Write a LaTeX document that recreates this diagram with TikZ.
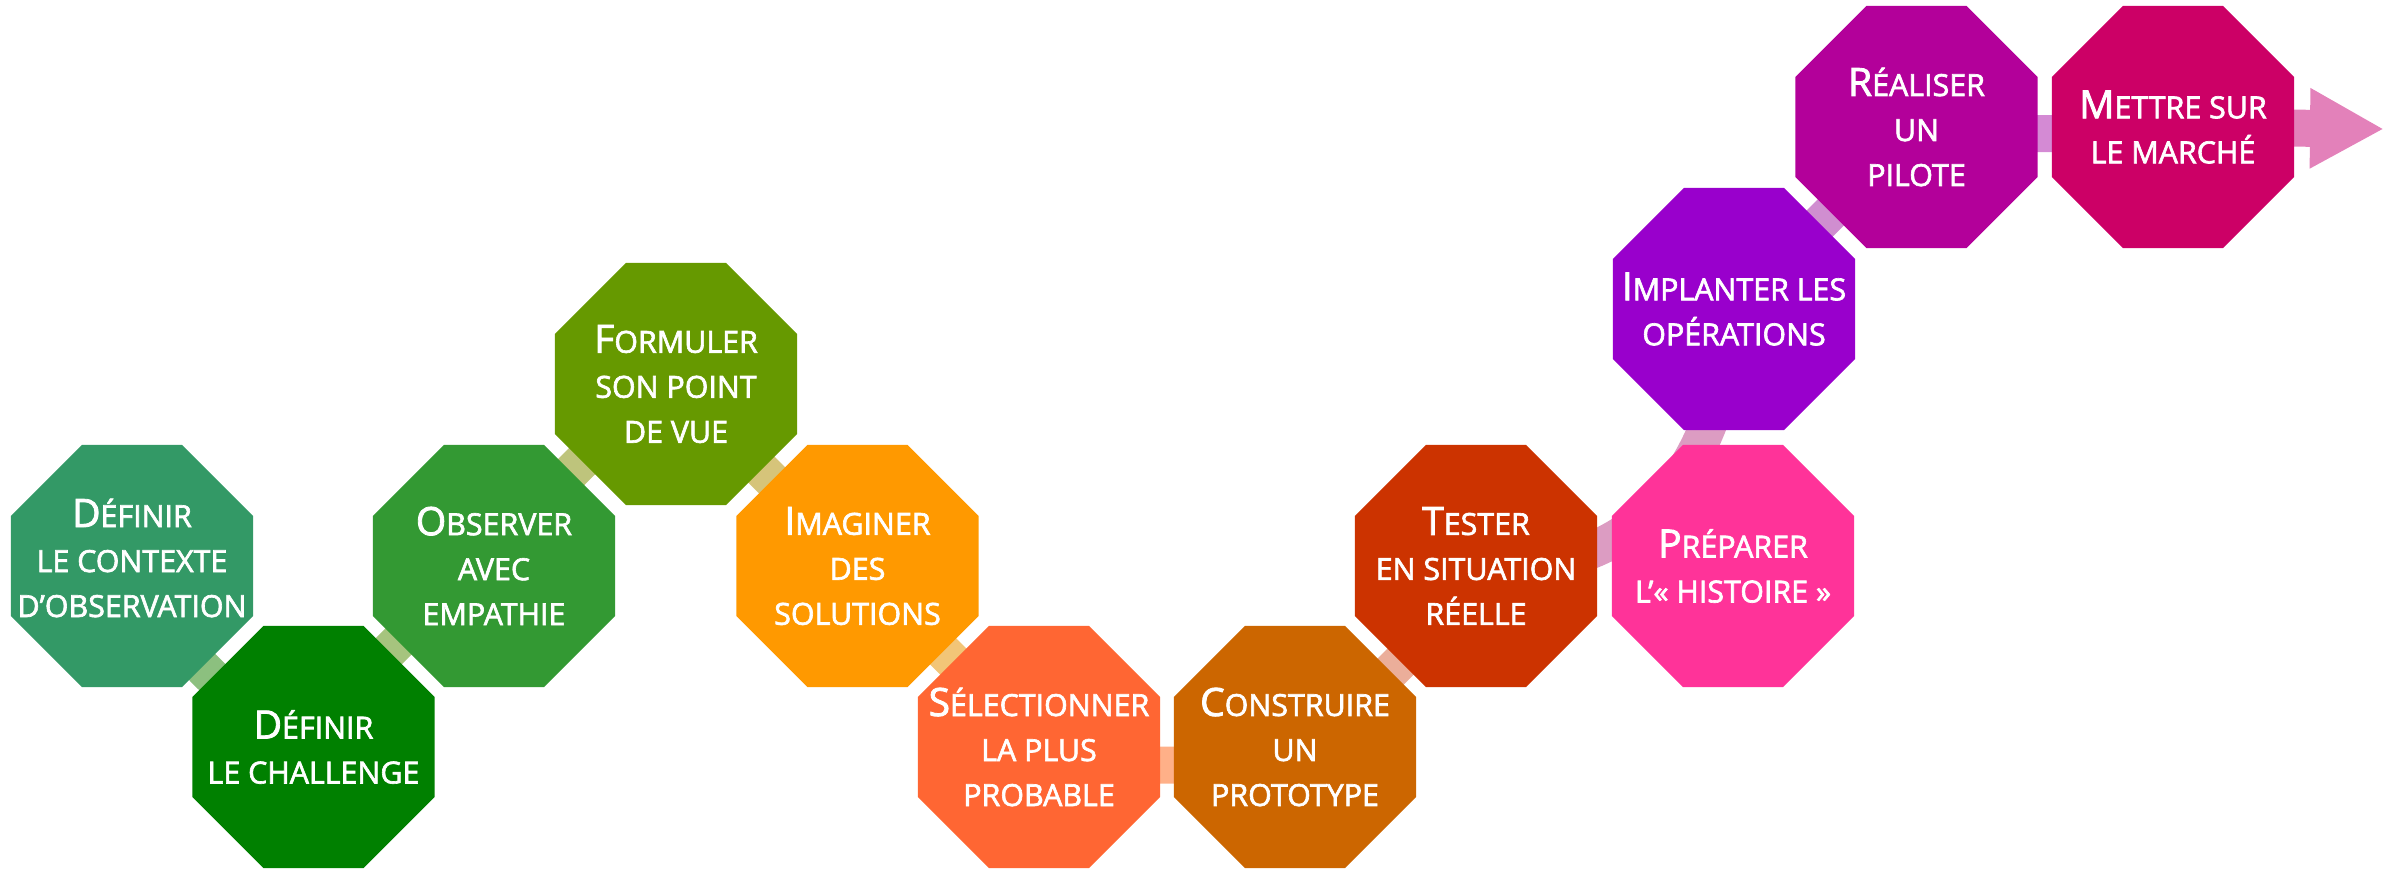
\documentclass[tikz,border=0pt]{standalone}
\usepackage{fontspec}
\newfontfamily\stepfont{Open Sans}[FakeBold=2.1]
\usetikzlibrary{shapes.geometric,arrows.meta,backgrounds}

% step colours
\definecolor{ctx}{HTML}{339966}
\definecolor{chal}{HTML}{008000}
\definecolor{obs}{HTML}{339933}
\definecolor{form}{HTML}{669900}
\definecolor{imag}{HTML}{FF9900}
\definecolor{sel}{HTML}{FF6633}
\definecolor{cons}{HTML}{CC6600}
\definecolor{test}{HTML}{CC3300}
\definecolor{prep}{HTML}{FF3399}
\definecolor{impl}{HTML}{9900CC}
\definecolor{pil}{HTML}{B3009A}
\definecolor{mar}{HTML}{CC0066}
% band colours
\definecolor{ba}{HTML}{8CC07F}
\definecolor{bb}{HTML}{A6C47E}
\definecolor{bc}{HTML}{BEC47C}
\definecolor{bd}{HTML}{D6C47A}
\definecolor{be}{HTML}{F2C577}
\definecolor{bf}{HTML}{FFB088}
\definecolor{bg}{HTML}{EBAE9A}
\definecolor{bh}{HTML}{DC9CC2}
\definecolor{bi}{HTML}{D08ED0}
\definecolor{bj}{HTML}{D48AD4}
\definecolor{bk}{HTML}{E381BA}

\newcommand{\initial}[1]{{\fontsize{19.5pt}{22.5pt}\selectfont #1}}

\begin{document}
\begin{tikzpicture}[x=0.5pt, y=0.5pt,
    octo/.style={shape=regular polygon, regular polygon sides=8, minimum size=131pt, inner sep=0pt, draw=none},
    lbl/.style={text=white, align=center, inner sep=0pt, font=\stepfont\fontsize{15.2pt}{22.5pt}\selectfont},
    band/.style={line width=18.5pt}]
    \useasboundingbox (0,0) rectangle (2384,868);

    \node[octo, fill=ctx] (1) at (132,302) {};
    \node[octo, fill=chal] (2) at (313.5,121) {};
    \node[octo, fill=obs] (3) at (494,302) {};
    \node[octo, fill=form] (4) at (676,484) {};
    \node[octo, fill=imag] (5) at (857.5,302) {};
    \node[octo, fill=sel] (6) at (1039,121) {};
    \node[octo, fill=cons] (7) at (1295,121) {};
    \node[octo, fill=test] (8) at (1476,302) {};
    \node[octo, fill=prep] (9) at (1733,302) {};
    \node[octo, fill=impl] (10) at (1734,559) {};
    \node[octo, fill=pil] (11) at (1916.5,741) {};
    \node[octo, fill=mar] (12) at (2173,741) {};
    \coordinate (end) at (2384,739);

    \node[lbl] (t1) at ([yshift=4pt]1) {\initial{D}ÉFINIR\\LE CONTEXTE\\D’OBSERVATION};
    \node[lbl] (t2) at (2) {\initial{D}ÉFINIR\\LE CHALLENGE};
    \node[lbl] (t3) at (3) {\initial{O}BSERVER\\AVEC\\EMPATHIE};
    \node[lbl] (t4) at (4) {\initial{F}ORMULER\\SON POINT\\DE VUE};
    \node[lbl] (t5) at (5) {\initial{I}MAGINER\\DES\\SOLUTIONS};
    \node[lbl] (t6) at (6) {\initial{S}ÉLECTIONNER\\LA PLUS\\PROBABLE};
    \node[lbl] (t7) at (7) {\initial{C}ONSTRUIRE\\UN\\PROTOTYPE};
    \node[lbl] (t8) at (8) {\initial{T}ESTER\\EN SITUATION\\RÉELLE};
    \node[lbl] (t9) at (9) {\initial{P}RÉPARER\\L’«~HISTOIRE~»};
    \node[lbl] (t10) at (10) {\initial{I}MPLANTER LES\\OPÉRATIONS};
    \node[lbl] (t11) at (11) {\initial{R}ÉALISER\\UN\\PILOTE};
    \node[lbl] (t12) at (12) {\initial{M}ETTRE SUR\\LE MARCHÉ};

    \begin{scope}[on background layer]
        \draw[band, ba] (1.center) to[bend right=17] (2.center);
        \draw[band, bb] (2.center) to[bend left=11] (3.center);
        \draw[band, bc] (3.center) to[bend left=9] (4.center);
        \draw[band, bd] (4.center) -- (5.center);
        \draw[band, be] (5.center) -- (6.center);
        \draw[band, bf] (6.center) to[bend right=14] (7.center);
        \draw[band, bg] (7.center) to[bend right=11] (8.center);
        \draw[band, bh] (8.center) .. controls +(164,-12) and +(-14,-159) .. (10.center);
        \draw[band, bi] (10.center) -- (11.center);
        \draw[band, bj] (11.center) to[bend right=5] (12.center);
        \draw[band, bk, -{Triangle[length=37pt,width=37.5pt]}] (12.center) -- (end);
    \end{scope}
\end{tikzpicture}
\end{document}
